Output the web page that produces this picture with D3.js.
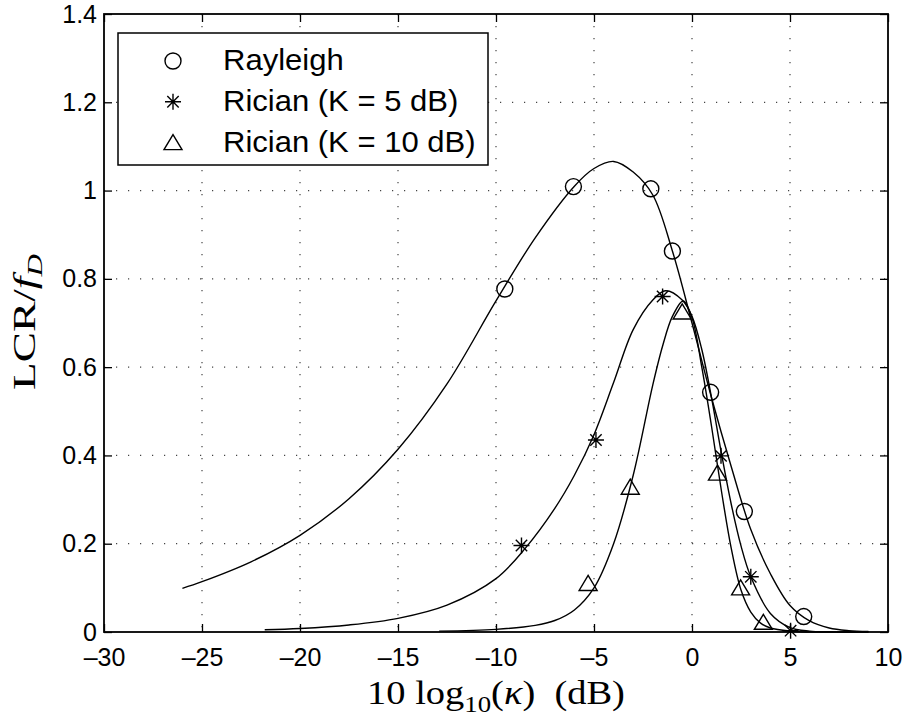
<!DOCTYPE html>
<html>
<head>
<meta charset="utf-8">
<script src="https://cdn.jsdelivr.net/npm/d3@7"></script>
<style>
  body { margin: 0; background: #fff; }
  svg { display: block; }
</style>
</head>
<body>
<div id="chart"></div>
<script>
// values: [10log10(kappa) dB, LCR/fD]
const rayleighCurve = [
  [-26, 0.099], [-25, 0.114], [-22.5, 0.159], [-20, 0.219], [-17.5, 0.302],
  [-15, 0.414], [-12.5, 0.562], [-10, 0.750], [-8, 0.893], [-6, 1.010],
  [-5, 1.050], [-4, 1.066], [-3, 1.042], [-2, 0.990], [-1, 0.863],
  [0, 0.700], [1, 0.530], [2, 0.375], [3, 0.232], [4, 0.132],
  [5, 0.060], [6, 0.025], [7, 0.009], [8, 0.003], [9, 0.001]
];
const rician5Curve = [
  [-21.8, 0.005], [-20, 0.008], [-17.5, 0.016], [-15, 0.031], [-12.5, 0.061],
  [-10, 0.121], [-8.5, 0.190], [-7, 0.280], [-6, 0.355], [-5, 0.447],
  [-4, 0.565], [-3, 0.685], [-2, 0.752], [-1.35, 0.773], [-0.5, 0.752],
  [0, 0.715], [0.5, 0.640], [1, 0.530], [1.5, 0.405], [2, 0.290],
  [2.5, 0.195], [3, 0.125], [4, 0.042], [5, 0.010], [6, 0.002], [7, 0.0005], [9, 0]
];
const rician10Curve = [
  [-12.9, 0.002], [-10, 0.006], [-8, 0.015], [-7, 0.026], [-6, 0.050],
  [-5, 0.100], [-4, 0.200], [-3, 0.355], [-2, 0.560], [-1.5, 0.648],
  [-1, 0.715], [-0.45, 0.750], [0, 0.712], [0.5, 0.600], [1, 0.465],
  [1.5, 0.320], [2, 0.190], [2.5, 0.095], [3, 0.045], [3.5, 0.020],
  [4, 0.009], [5, 0.002], [6, 0], [9, 0]
];

const rayleighMarks = [[-9.55, 0.777], [-6.05, 1.009], [-2.1, 1.004], [-1.0, 0.863], [0.95, 0.543], [2.67, 0.273], [5.7, 0.035]];
const rician5Marks = [[-8.7, 0.196], [-4.9, 0.435], [-1.5, 0.760], [1.48, 0.399], [3.0, 0.125], [5.03, 0.003]];
const rician10Marks = [[-5.3, 0.11], [-3.15, 0.328], [-0.5, 0.725], [1.3, 0.36], [2.48, 0.10], [3.64, 0.022]];

const xTicks = [-30, -25, -20, -15, -10, -5, 0, 5, 10];
const yTicks = [0, 0.2, 0.4, 0.6, 0.8, 1, 1.2, 1.4];
const legendLabels = ['Rayleigh', 'Rician (K = 5 dB)', 'Rician (K = 10 dB)'];
const legendMarkers = ['circle', 'star', 'triangle'];

const W = 906, H = 716;
const margin = {t: 14, r: 18, b: 84, l: 104};
const width = W - margin.l - margin.r;
const height = H - margin.t - margin.b;

const svg = d3.select('#chart').append('svg').attr('width', W).attr('height', H);
const mainG = svg.append('g').attr('transform', `translate(${margin.l},${margin.t})`);

const xScale = d3.scaleLinear().domain([-30, 10]).range([0, width]);
const yScale = d3.scaleLinear().domain([0, 1.4]).range([height, 0]);

const sans = 'Liberation Sans, Arial, Helvetica, sans-serif';
const serif = 'Liberation Serif, Times New Roman, serif';

// dotted grid
const grid = mainG.append('g').attr('class', 'grid')
  .attr('stroke', '#444').attr('stroke-width', 1.2).attr('stroke-dasharray', '1.2 10.8');
grid.selectAll('.gx').data(xTicks.slice(1, -1)).join('line')
  .attr('x1', d => xScale(d)).attr('x2', d => xScale(d))
  .attr('y1', 0).attr('y2', height);
grid.selectAll('.gy').data(yTicks.slice(1, -1)).join('line')
  .attr('x1', 0).attr('x2', width)
  .attr('y1', d => yScale(d)).attr('y2', d => yScale(d));

// axes, ticks pointing in
const tickFmt = d => (d < 0 ? '\u2013' + Math.abs(d) : String(d));
mainG.append('g').attr('class', 'x-axis')
  .attr('transform', `translate(0,${height})`)
  .call(d3.axisBottom(xScale).tickValues(xTicks).tickSize(-8).tickPadding(16).tickFormat(tickFmt));
mainG.append('g').attr('class', 'x-axis-top')
  .call(d3.axisTop(xScale).tickValues(xTicks).tickSize(-8).tickFormat(''));
mainG.append('g').attr('class', 'y-axis')
  .call(d3.axisLeft(yScale).tickValues(yTicks).tickSize(-8).tickPadding(7).tickFormat(d => String(d)));
mainG.append('g').attr('class', 'y-axis-right')
  .attr('transform', `translate(${width},0)`)
  .call(d3.axisRight(yScale).tickValues(yTicks).tickSize(-8).tickFormat(''));

mainG.selectAll('.domain').remove();
mainG.selectAll('.tick line').attr('stroke', '#000').attr('stroke-width', 1.3);
mainG.selectAll('.tick text').attr('fill', '#000').style('font-family', sans).style('font-size', '25px');

// frame
mainG.append('rect').attr('x', 0).attr('y', 0).attr('width', width).attr('height', height)
  .attr('fill', 'none').attr('stroke', '#000').attr('stroke-width', 1.8);

// curves
const line = d3.line().x(d => xScale(d[0])).y(d => yScale(Math.max(0, d[1])))
  .curve(d3.curveCatmullRom.alpha(0.5));
mainG.append('g').selectAll('.curve').data([rayleighCurve, rician5Curve, rician10Curve]).join('path')
  .attr('class', 'curve')
  .attr('d', line).attr('fill', 'none').attr('stroke', '#000').attr('stroke-width', 1.4);

// marker drawers
function drawMarker(g, type) {
  if (type === 'circle') {
    g.append('circle').attr('r', 8).attr('fill', 'none').attr('stroke', '#000').attr('stroke-width', 1.4);
  } else if (type === 'star') {
    g.append('path')
      .attr('d', 'M0,-8V8M-8,0H8M-5.7,-5.7L5.7,5.7M-5.7,5.7L5.7,-5.7')
      .attr('stroke', '#000').attr('stroke-width', 1.4).attr('fill', 'none');
  } else {
    g.append('path').attr('d', 'M0,-8L9,7H-9Z')
      .attr('fill', 'none').attr('stroke', '#000').attr('stroke-width', 1.4);
  }
}

const markSets = [[rayleighMarks, 'circle'], [rician5Marks, 'star'], [rician10Marks, 'triangle']];
markSets.forEach(([pts, type]) => {
  mainG.append('g').selectAll('.mk').data(pts).join('g')
    .attr('transform', d => `translate(${xScale(d[0])},${yScale(d[1])})`)
    .each(function() { drawMarker(d3.select(this), type); });
});

// legend
const legend = svg.append('g').attr('class', 'legend');
legend.append('rect').attr('x', 118).attr('y', 33).attr('width', 370).attr('height', 132)
  .attr('fill', '#fff').attr('stroke', '#000').attr('stroke-width', 1.5);
legendLabels.forEach((lab, i) => {
  const row = legend.append('g').attr('transform', `translate(0,${70 + i * 40.8})`);
  const m = row.append('g').attr('transform', 'translate(173,-9)');
  drawMarker(m, legendMarkers[i]);
  row.append('text').attr('transform', 'translate(223,0) scale(1.07,1)')
    .style('font-family', sans).style('font-size', '29px').text(lab);
});

// fit a label to the span it takes in the figure
function fitWidth(t, target) {
  const w = t.node().getBBox().width;
  return w > 0 ? target / w : 1;
}

// axis labels
const xl = svg.append('text').attr('text-anchor', 'middle').attr('xml:space', 'preserve')
  .style('font-family', serif).style('font-size', '33px');
xl.append('tspan').text('10 log');
xl.append('tspan').attr('dy', 8).style('font-size', '23px').text('10');
xl.append('tspan').attr('dy', -8).text('(');
xl.append('tspan').style('font-style', 'italic').text('\u03ba');
xl.append('tspan').text(')  (dB)');
xl.attr('transform', `translate(496,704) scale(${fitWidth(xl, 258)},1)`);

const yl = svg.append('text').attr('text-anchor', 'middle')
  .style('font-family', serif).style('font-size', '32px');
yl.append('tspan').text('LCR/');
yl.append('tspan').style('font-style', 'italic').text('f');
yl.append('tspan').attr('dy', 7).style('font-style', 'italic').style('font-size', '22px').text('D');
yl.attr('transform', `translate(35,322) rotate(-90) scale(${fitWidth(yl, 136)},1)`);
</script>
</body>
</html>
